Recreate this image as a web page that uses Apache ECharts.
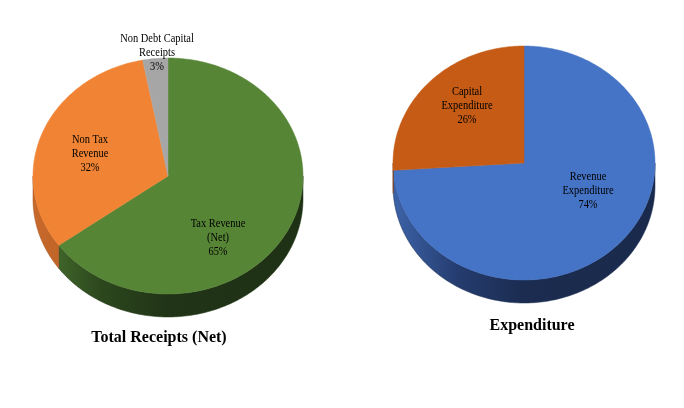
<!DOCTYPE html>
<html>
<head>
<meta charset="utf-8">
<script src="https://cdn.jsdelivr.net/npm/echarts@6/dist/echarts.min.js"></script>
<style>
    html, body { margin: 0; padding: 0; background: #fff; }
    #main { width: 684px; height: 408px; }
</style>
</head>
<body>
<div id="main"></div>
<script>
// 数据
var receiptNames = ["Tax Revenue\n(Net)", "Non Tax\nRevenue", "Non Debt Capital\nReceipts"];
var receiptValues = [65, 32, 3];
var expenditureNames = ["Revenue\nExpenditure", "Capital\nExpenditure"];
var expenditureValues = [74, 26];

// 颜色
var receiptColors = ["#568536", "#f08434", "#a6a6a6"];
var receiptSideColors = [
    ["#4a7630", "#2c471d", "#213417", "#1f3115"],
    ["#c86a2c", "#b35a20", "#a04e1b", "#a04e1b"],
    ["#8a8a8a", "#777777", "#666666", "#666666"],
];
var expenditureColors = ["#4573c5", "#c55b14"];
var expenditureSideColors = [
    ["#3d63a8", "#243c6e", "#1b2c50", "#1a2a4c"],
    ["#a84c10", "#8f400d", "#7d380b", "#7d380b"],
];

// 布局 (标签偏移相对于圆心)
var receiptLayout = {
    cx: 168, cy: 176, rx: 135, ry: 118, depth: 23,
    labelOffsets: [[50, 62], [-78, -22], [-11, -123]],
};
var expenditureLayout = {
    cx: 524, cy: 163, rx: 131, ry: 117, depth: 23,
    labelOffsets: [[64, 28], [-57, -57]],
};

function makeRenderItem(names, values, colors, sideColors, layout) {
    var total = values.reduce(function (a, b) { return a + b; }, 0);
    return function (params, api) {
        var i = params.dataIndex;
        var before = 0;
        for (var k = 0; k < i; k++) before += values[k];
        var start = -90 + (before / total) * 360;
        var end = start + (api.value(0) / total) * 360;
        var cx = layout.cx, cy = layout.cy, rx = layout.rx, ry = layout.ry, d = layout.depth;

        function pt(deg, dy) {
            var a = (deg * Math.PI) / 180;
            return [cx + rx * Math.cos(a), cy + ry * Math.sin(a) + (dy || 0)];
        }
        function arc(a1, a2, dy) {
            var pts = [];
            var n = Math.max(2, Math.ceil(Math.abs(a2 - a1)));
            for (var s = 0; s <= n; s++) pts.push(pt(a1 + ((a2 - a1) * s) / n, dy));
            return pts;
        }

        var children = [];
        // 侧面: 只画前半部分 (0° ~ 180°)
        var ranges = [[0, 180], [360, 540]];
        ranges.forEach(function (r) {
            var a1 = Math.max(start, r[0]);
            var a2 = Math.min(end, r[1]);
            if (a2 > a1) {
                var upper = arc(a1, a2, 0);
                var lower = arc(a2, a1, d);
                var sc = sideColors[i];
                children.push({
                    type: "polygon",
                    shape: { points: upper.concat(lower) },
                    style: {
                        fill: new echarts.graphic.LinearGradient(
                            cx - rx, 0, cx + rx, 0,
                            [
                                { offset: 0, color: sc[0] },
                                { offset: 0.25, color: sc[1] },
                                { offset: 0.5, color: sc[2] },
                                { offset: 1, color: sc[3] },
                            ],
                            true
                        ),
                        stroke: sc[2],
                        lineWidth: 0.5,
                    },
                });
            }
        });
        // 顶面
        children.push({
            type: "polygon",
            shape: { points: [[cx, cy]].concat(arc(start, end, 0)) },
            style: { fill: colors[i], stroke: colors[i], lineWidth: 0.5 },
        });
        // 标签
        var off = layout.labelOffsets[i];
        children.push({
            type: "text",
            x: cx + off[0],
            y: cy + off[1],
            scaleX: 0.87,
            z2: 10,
            style: {
                text: names[i] + "\n" + api.value(0) + "%",
                fill: "#000",
                font: "12px 'Liberation Serif'",
                align: "center",
                verticalAlign: "middle",
                lineHeight: 14,
            },
        });
        return { type: "group", children: children };
    };
}

var chart = echarts.init(document.getElementById("main"));
var option = {
    animation: false,
    title: [
        {
            text: "Total Receipts (Net)",
            left: 154,
            top: 325,
            textAlign: "center",
            textStyle: { fontFamily: "Liberation Serif", fontSize: 16, fontWeight: "bold", color: "#000" },
        },
        {
            text: "Expenditure",
            left: 527,
            top: 313,
            textAlign: "center",
            textStyle: { fontFamily: "Liberation Serif", fontSize: 16, fontWeight: "bold", color: "#000" },
        },
    ],
    series: [
        {
            type: "custom",
            coordinateSystem: "none",
            renderItem: makeRenderItem(receiptNames, receiptValues, receiptColors, receiptSideColors, receiptLayout),
            data: receiptValues,
        },
        {
            type: "custom",
            coordinateSystem: "none",
            renderItem: makeRenderItem(expenditureNames, expenditureValues, expenditureColors, expenditureSideColors, expenditureLayout),
            data: expenditureValues,
        },
    ],
};
chart.setOption(option);
</script>
</body>
</html>
